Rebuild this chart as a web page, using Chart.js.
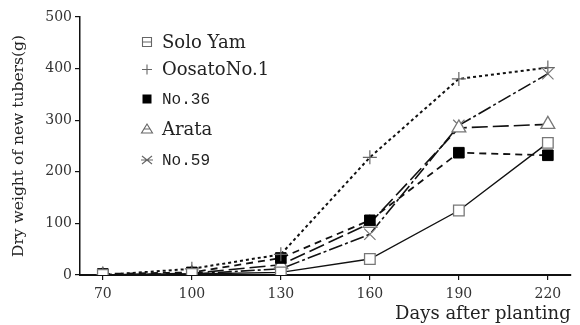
<!DOCTYPE html>
<html><head><meta charset="utf-8">
<script src="https://cdn.jsdelivr.net/npm/chart.js@4/dist/chart.umd.min.js"></script>
<style>html,body{margin:0;padding:0;background:#fff}#wrap{width:580px;height:325px;position:relative}</style>
</head><body><div id="wrap"><canvas id="c"></canvas></div>
<script>
const days = [70, 100, 130, 160, 190, 220];
const seriesNames = ['Solo Yam', 'OosatoNo.1', 'No.36', 'Arata', 'No.59'];
const soloYam = [0, 2, 5, 31, 125, 256];
const oosato = [0, 12, 40, 228, 380, 402];
const no36 = [2, 5, 33, 106, 237, 232];
const arata = [0, 3, 20, 100, 285, 292];
const no59 = [0, 2, 12, 79, 290, 390];
const yTicks = [0, 100, 200, 300, 400, 500];
const xTitle = 'Days after planting';
const yTitle = 'Dry weight of new tubers(g)';

const SERIF = '"DejaVu Serif", "Liberation Serif", serif';
const MONO = '"Liberation Mono", "DejaVu Sans Mono", monospace';

function pts(vals) { return days.map((d, i) => ({ x: d, y: vals[i] })); }

const styles = [
  { data: soloYam, dash: [], pointStyle: 'rect', radius: 7.5, bg: '#fff', border: '#777', lw: 1.4, pbw: 1.3 },
  { data: oosato, dash: [3, 3], pointStyle: 'cross', radius: 7, bg: '#fff', border: '#666', lw: 2, pbw: 1.2 },
  { data: no36, dash: [7, 5], pointStyle: 'rect', radius: 7.5, bg: '#000', border: '#000', lw: 1.8, pbw: 1 },
  { data: arata, dash: [16, 5], pointStyle: 'triangle', radius: 8, bg: '#fff', border: '#777', lw: 1.6, pbw: 1.3 },
  { data: no59, dash: [14, 3, 3, 3], pointStyle: 'crossRot', radius: 8, bg: '#fff', border: '#777', lw: 1.6, pbw: 1.2 }
];

const datasets = styles.map((s, i) => ({
  label: seriesNames[i],
  data: pts(s.data),
  borderColor: '#111',
  borderWidth: s.lw,
  borderDash: s.dash,
  pointStyle: s.pointStyle,
  pointRadius: s.radius,
  pointBackgroundColor: s.bg,
  pointBorderColor: s.border,
  pointBorderWidth: s.pbw,
  tension: 0,
  fill: false
}));

const legendPlugin = {
  id: 'innerLegend',
  afterDraw(chart) {
    const ctx = chart.ctx;
    const a = chart.chartArea;
    const mx = a.left + 67, tx = a.left + 82;
    const rows = [25, 52.5, 82, 112, 143];
    ctx.save();
    seriesNames.forEach((name, i) => {
      const y = a.top + rows[i];
      ctx.strokeStyle = '#666';
      ctx.fillStyle = '#666';
      ctx.lineWidth = 1.1;
      ctx.beginPath();
      if (i === 0) {
        ctx.rect(mx - 4.5, y - 4.5, 9, 9);
        ctx.moveTo(mx - 4.5, y); ctx.lineTo(mx + 4.5, y);
        ctx.stroke();
      } else if (i === 1) {
        ctx.moveTo(mx - 5, y); ctx.lineTo(mx + 5, y);
        ctx.moveTo(mx, y - 5); ctx.lineTo(mx, y + 5);
        ctx.stroke();
      } else if (i === 2) {
        ctx.fillStyle = '#000';
        ctx.fillRect(mx - 4.5, y - 4.5, 9, 9);
      } else if (i === 3) {
        ctx.moveTo(mx, y - 5); ctx.lineTo(mx + 5.5, y + 4); ctx.lineTo(mx - 5.5, y + 4); ctx.closePath();
        ctx.moveTo(mx - 3, y); ctx.lineTo(mx + 3, y);
        ctx.stroke();
      } else {
        ctx.moveTo(mx - 5, y - 4); ctx.lineTo(mx + 5, y + 4);
        ctx.moveTo(mx - 5, y + 4); ctx.lineTo(mx + 5, y - 4);
        ctx.moveTo(mx - 6, y); ctx.lineTo(mx + 6, y);
        ctx.stroke();
      }
      ctx.fillStyle = '#222';
      ctx.textBaseline = 'middle';
      ctx.textAlign = 'left';
      ctx.font = (i === 2 || i === 4) ? '16px ' + MONO : '18px ' + SERIF;
      ctx.fillText(name, tx, y + 1);
    });
    ctx.restore();
  }
};

new Chart(document.getElementById('c'), {
  type: 'line',
  data: { datasets },
  options: {
    responsive: true,
    maintainAspectRatio: false,
    animation: false,
    devicePixelRatio: 1,
    layout: { padding: { top: 17, right: 7, left: 0, bottom: 0 } },
    plugins: { legend: { display: false }, tooltip: { enabled: false } },
    scales: {
      x: {
        type: 'linear',
        min: 62.3,
        max: 227.7,
        afterBuildTicks(scale) { scale.ticks = days.map(v => ({ value: v })); },
        afterFit(scale) { scale.height = 50; },
        grid: { display: true, drawOnChartArea: false, drawTicks: true, tickLength: 5, color: '#111', lineWidth: 1.2 },
        border: { display: true, color: '#111', width: 2 },
        ticks: { color: '#333', font: { family: SERIF, size: 14 }, padding: 6, maxRotation: 0, autoSkip: false },
        title: { display: true, text: xTitle, align: 'end', color: '#222', font: { family: SERIF, size: 18 }, padding: { top: 0, bottom: 0 } }
      },
      y: {
        min: 0,
        max: 500,
        afterBuildTicks(scale) { scale.ticks = yTicks.map(v => ({ value: v })); },
        afterFit(scale) { scale.width = 80; },
        grid: { display: true, drawOnChartArea: false, drawTicks: true, tickLength: 5, color: '#111', lineWidth: 1.2 },
        border: { display: true, color: '#111', width: 1.5 },
        ticks: { color: '#333', font: { family: SERIF, size: 14 }, padding: 3 },
        title: { display: true, text: yTitle, color: '#222', font: { family: SERIF, size: 15.5 }, padding: { top: 10, bottom: 4 } }
      }
    }
  },
  plugins: [legendPlugin]
});
</script></body></html>
